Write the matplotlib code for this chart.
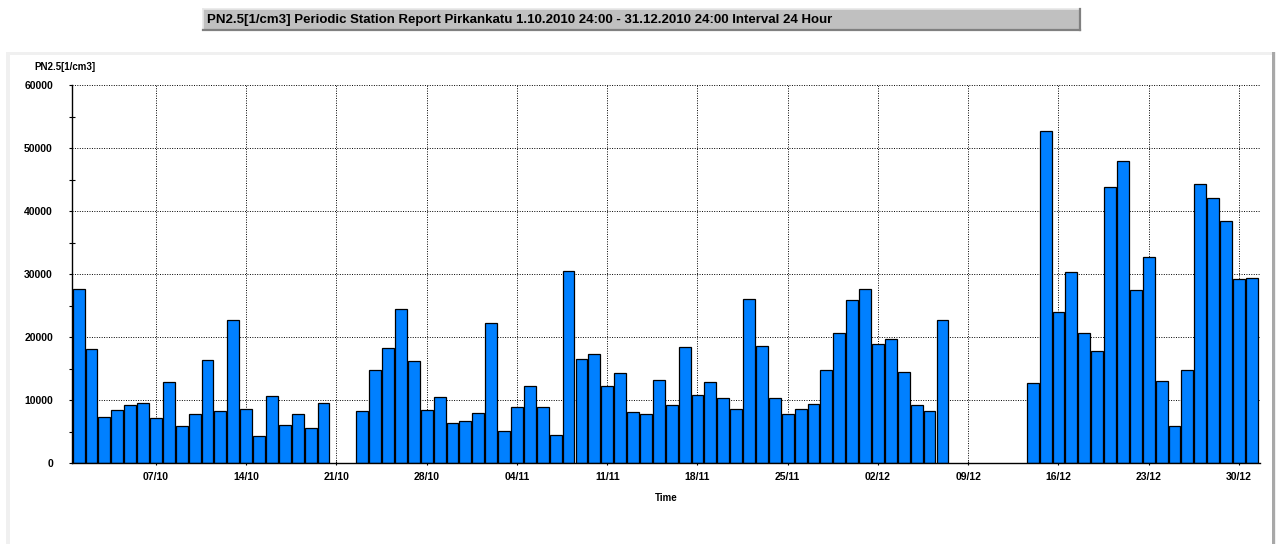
import matplotlib
matplotlib.use("Agg")
import matplotlib.pyplot as plt
import matplotlib.dates as mdates
from matplotlib.patches import Rectangle
from matplotlib.lines import Line2D
import numpy as np
import pandas as pd

plt.rcParams['font.family'] = ['Liberation Sans', 'DejaVu Sans']

# Daily PN2.5 values 1.10.2010 - 31.12.2010 (None = no data)
start_day = "2010-10-01"
end_day = "2010-12-31"
pn_values = [
    # October 1-31
    27600, 18100, 7300, 8400, 9150, 9600, 7100, 12850, 5900, 7700,
    16300, 8200, 22700, 8500, 4330, 10600, 6000, 7700, 5550, 9500,
    None, None, 8200, 14800, 18200, 24500, 16200, 8400, 10400, 6300,
    6650,
    # November 1-30
    8000, 22200, 5070, 8830, 12200, 8830, 4440, 30550, 16540, 17230,
    12260, 14270, 8090, 7720, 13160, 9250, 18400, 10730, 12840, 10250,
    8510, 26060, 18550, 10250, 7820, 8620, 9360, 14800, 20670, 25850,
    # December 1-31
    27590, 18870, 19710, 14480, 9250, 8190, 22680, None, None, None,
    None, None, None, 12680, 52700, 23940, 30290, 20670, 17760, 43870,
    47940, 27430, 32770, 12950, 5870, 14800, 44350, 42020, 38480, 29230,
    29440,
]
tick_days = ["2010-10-07", "2010-10-14", "2010-10-21", "2010-10-28", "2010-11-04",
             "2010-11-11", "2010-11-18", "2010-11-25", "2010-12-02", "2010-12-09",
             "2010-12-16", "2010-12-23", "2010-12-30"]

title_text = ("PN2.5[1/cm3] Periodic Station Report Pirkankatu "
              "1.10.2010 24:00 - 31.12.2010 24:00 Interval 24 Hour")

W, H = 1276, 544
fig = plt.figure(figsize=(W / 100, H / 100), dpi=100)
fig.patch.set_facecolor("white")


def fx(x):
    return x / W


def fy(y):
    return 1 - y / H


# panel frame (light gray top/left, darker right edge)
fig.add_artist(Rectangle((fx(6), 0), fx(1270), fy(52), transform=fig.transFigure,
                         facecolor="#f0f0f0", edgecolor="none", zorder=0))
fig.add_artist(Rectangle((fx(10), 0), fx(1262), fy(55), transform=fig.transFigure,
                         facecolor="white", edgecolor="none", zorder=0))
fig.add_artist(Rectangle((fx(1272), 0), fx(3), fy(52), transform=fig.transFigure,
                         facecolor="#a8a8a8", edgecolor="none", zorder=0))

# title box with bevel
fig.add_artist(Rectangle((fx(203), fy(30)), fx(877), fy(9) - fy(30), transform=fig.transFigure,
                         facecolor="#c0c0c0", edgecolor="none", zorder=1))
fig.add_artist(Line2D([fx(203), fx(1080)], [fy(9), fy(9)], transform=fig.transFigure,
                      color="#e8e8e8", lw=1.2, zorder=2))
fig.add_artist(Line2D([fx(203), fx(203)], [fy(9), fy(30)], transform=fig.transFigure,
                      color="#e8e8e8", lw=1.2, zorder=2))
fig.add_artist(Line2D([fx(203), fx(1080)], [fy(30), fy(30)], transform=fig.transFigure,
                      color="#808080", lw=1.6, zorder=2))
fig.add_artist(Line2D([fx(1080), fx(1080)], [fy(9), fy(30)], transform=fig.transFigure,
                      color="#808080", lw=1.6, zorder=2))
fig.text(fx(207), fy(19.5), title_text, fontsize=9.5, fontweight="bold",
         ha="left", va="center", zorder=3)

# axes
ax = fig.add_axes([fx(71.7), fy(463), fx(1260) - fx(71.7), fy(85) - fy(463)])
ax.set_facecolor("none")

days = pd.date_range(start_day, end_day, freq="D")
vals = np.array([np.nan if v is None else v for v in pn_values], dtype=float)
ok = ~np.isnan(vals)
ax.bar(days[ok], vals[ok], width=0.92, color="#0080ff", edgecolor="black",
       linewidth=0.9, zorder=3)

x0 = mdates.date2num(pd.Timestamp(start_day))
ax.set_xlim(x0 - 0.535, x0 + 91.63)
ax.set_ylim(0, 60000)

ax.set_xticks(pd.to_datetime(tick_days))
ax.xaxis.set_major_formatter(mdates.DateFormatter("%d/%m"))
ax.set_yticks(np.arange(0, 60001, 10000))
ax.set_yticks(np.arange(5000, 60000, 10000), minor=True)

ax.grid(True, which="major", color="black", linestyle=(0, (1, 1.5)), linewidth=0.7, zorder=1)
for s in ["top", "right"]:
    ax.spines[s].set_visible(False)
ax.spines["left"].set_linewidth(1.0)
ax.spines["bottom"].set_linewidth(1.0)
ax.spines["bottom"].set_zorder(4)

ax.tick_params(axis="y", which="major", direction="out", length=2.5, width=0.8,
               labelsize=7.5, pad=11)
ax.tick_params(axis="y", which="minor", direction="inout", length=5, width=0.8)
ax.tick_params(axis="x", which="major", direction="inout", length=3, width=0.8,
               labelsize=7.5, pad=5)
for lab in ax.get_xticklabels() + ax.get_yticklabels():
    lab.set_fontweight("bold")

ax.set_xlabel("Time", fontsize=7, fontweight="bold", labelpad=8)
fig.text(fx(34), fy(66.5), "PN2.5[1/cm3]", fontsize=7, fontweight="bold",
         ha="left", va="center")

fig.savefig("out.png", dpi=100)
